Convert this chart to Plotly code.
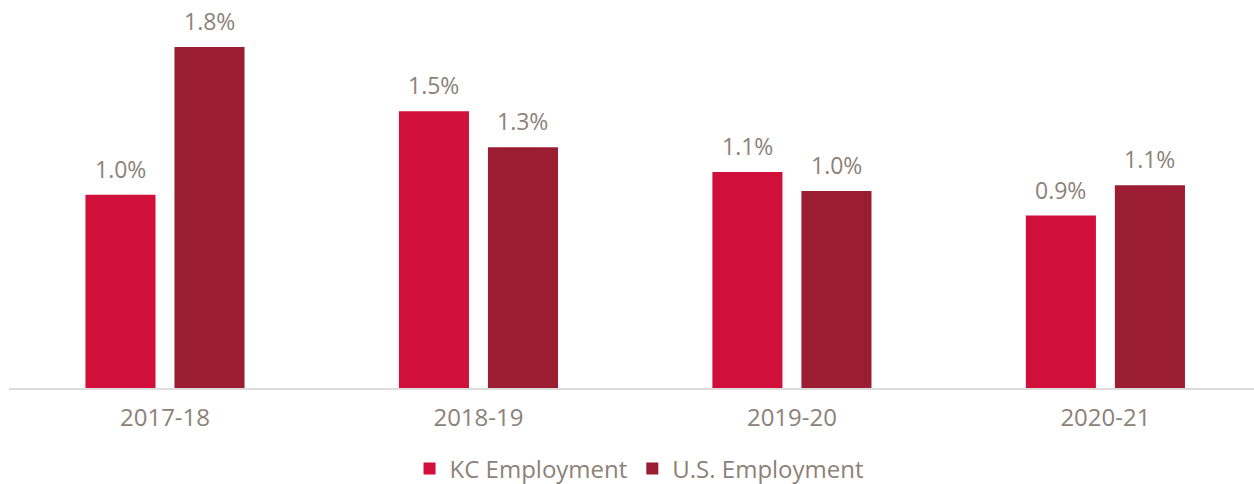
import plotly.graph_objects as go

periods = ["2017-18", "2018-19", "2019-20", "2020-21"]
kc_employment = [1.02, 1.46, 1.14, 0.91]
us_employment = [1.80, 1.27, 1.04, 1.07]

FONT = "Open Sans"
TXT = "#8C8279"
KC_COLOR = "#D0103A"
US_COLOR = "#9B1D32"

fig = go.Figure()
fig.add_trace(go.Bar(
    x=periods, y=kc_employment, name="KC Employment",
    marker=dict(color=KC_COLOR, line=dict(width=0)),
))
fig.add_trace(go.Bar(
    x=periods, y=us_employment, name="U.S. Employment",
    marker=dict(color=US_COLOR, line=dict(width=0)),
))

# value labels above bars
for vals, shift in ((kc_employment, -44.5), (us_employment, 44.5)):
    for p, v in zip(periods, vals):
        fig.add_annotation(x=p, y=v, text=f"{v:.1f}%", showarrow=False,
                           xshift=shift, yshift=8, yanchor="bottom",
                           font=dict(family=FONT, size=23, color=TXT))

fig.update_layout(
    width=1254, height=484,
    margin=dict(l=9, r=0, t=9, b=96, autoexpand=False),
    paper_bgcolor="white", plot_bgcolor="white",
    barmode="group", bargap=0.432, bargroupgap=0.213,
    font=dict(family=FONT, color=TXT, size=24),
    showlegend=True,
    legend=dict(orientation="h", x=0.51, xanchor="center", xref="container",
                y=0.031, yanchor="middle", yref="container",
                font=dict(family=FONT, size=24, color=TXT),
                itemwidth=30, traceorder="normal"),
    xaxis=dict(range=[-0.4976, 3.474], showline=True, linecolor="#DCDCDC", linewidth=2,
               ticks="", showgrid=False, automargin=False, ticklabelstandoff=7,
               tickfont=dict(family=FONT, size=24, color=TXT)),
    yaxis=dict(range=[0, 2.0], visible=False, showgrid=False, zeroline=False,
               automargin=False),
)

fig.write_html("out.html", config={"displayModeBar": False},
               post_script="document.body.style.margin='0px';")
